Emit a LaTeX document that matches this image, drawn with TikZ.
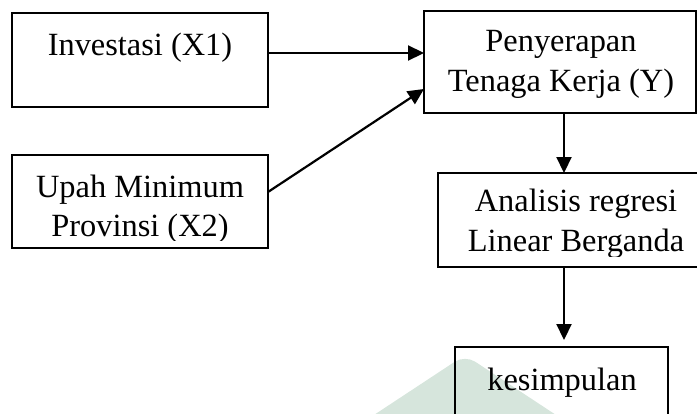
\documentclass[tikz,border=0pt]{standalone}
\usepackage{fontspec}
\setmainfont{Liberation Serif}
\usetikzlibrary{arrows.meta}
\definecolor{wmgreen}{RGB}{214,229,220}
\begin{document}
\begin{tikzpicture}[x=0.5pt,y=-0.5pt,
  box/.style={draw=black,line width=1pt,anchor=north west,inner sep=0pt,outer sep=0pt},
  lbl/.style={anchor=base,inner sep=0pt,font=\fontsize{16.2}{20}\selectfont},
  arr/.style={line width=1.1pt,-{Triangle[length=8pt,width=7.5pt]}}]
\clip (0,0) rectangle (697,413);
% watermark
\fill[wmgreen,rounded corners=6pt] (336,440) -- (465,355) -- (594,440) -- cycle;
% boxes
\node[box,minimum width=128pt,minimum height=47pt] (inv) at (12,13) {};
\node[box,minimum width=128pt,minimum height=46.5pt] (upah) at (12,155) {};
\node[box,minimum width=136pt,minimum height=51pt] (pen) at (424,11) {};
\node[box,minimum width=138pt,minimum height=47pt] (ana) at (438,173) {};
\node[box,minimum width=106.5pt,minimum height=46.5pt] (kes) at (455,347) {};
% texts
\node[lbl] (tinv) at (140,55) {Investasi (X1)};
\node[lbl] (tupah1) at (140,197) {Upah Minimum};
\begin{scope}
\clip (12,155) rectangle (268,240);
\node[lbl] (tupah2) at (140,236) {Provinsi (X2)};
\end{scope}
\node[lbl] (tpen1) at (561,51) {Penyerapan};
\node[lbl] (tpen2) at (561,91) {Tenaga Kerja (Y)};
\node[lbl] (tana1) at (576,211) {Analisis regresi};
\begin{scope}
\clip (438,173) rectangle (697,256);
\node[lbl] (tana2) at (576,251) {Linear Berganda};
\end{scope}
\node[lbl] (tkes) at (562,390) {kesimpulan};
% connectors
\coordinate (ktip) at (564,340);
\draw[arr] (inv.east |- 0,53) -- (pen.west |- 0,53);
\draw[arr] (upah.east |- 0,192) -- (pen.west |- 0,89);
\draw[arr] (pen.south -| 564,0) -- (ana.north -| 564,0);
\draw[arr] (ana.south -| 564,0) -- (ktip);
\end{tikzpicture}
\end{document}
